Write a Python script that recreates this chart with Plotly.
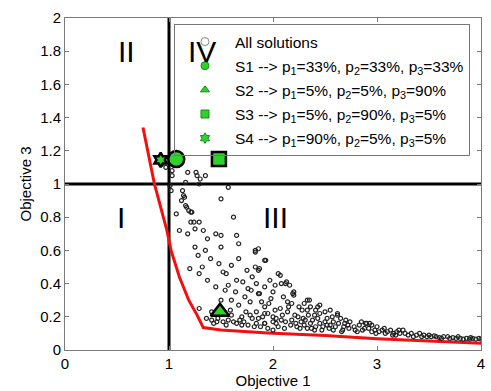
import plotly.graph_objects as go

# ---- data -------------------------------------------------------------
cloud_x = [0.93, 0.97, 1.03, 1.03, 1.18, 1.26, 1.27, 1.30, 1.35, 1.16, 1.29, 1.01, 1.57, 1.02, 1.13,
           1.14, 1.15, 1.50, 1.17, 1.16, 1.19, 1.22, 1.21, 1.07, 1.62, 1.21, 1.24, 1.29, 1.25, 1.33,
           1.45, 1.50, 1.37, 1.65, 1.67, 1.50, 1.86, 1.28, 1.67, 1.83, 1.83, 1.92, 1.93, 1.20, 1.48,
           1.52, 1.55, 1.60, 1.29, 1.37, 1.83, 1.86, 1.71, 1.57, 1.84, 1.76, 1.79, 1.64, 1.54, 1.73,
           1.86, 1.92, 1.78, 1.89, 1.67, 1.29, 1.41, 1.59, 1.74, 1.84, 1.92, 1.36, 1.41, 1.46, 1.52,
           1.57, 1.62, 1.65, 1.70, 1.76, 1.84, 1.86, 1.92,
           1.87, 2.05, 2.07, 2.12, 2.16, 2.08, 2.20, 2.20, 1.87, 1.98, 2.10, 2.14, 2.35, 2.36, 2.41,
           2.33, 2.45, 1.92, 2.02, 2.07, 1.95, 2.14, 2.21, 2.24, 2.29, 2.31, 2.38, 2.43, 2.52, 2.57,
           2.62, 2.65, 2.70, 2.74, 2.90, 2.95, 1.92, 2.00, 2.05, 2.11, 2.17, 2.26, 2.33, 2.41, 2.48,
           2.54, 2.60, 2.67, 2.73, 2.81, 2.88, 2.95,
           2.13, 2.19, 2.33, 2.43, 2.62, 2.89, 3.00, 3.19,
           2.93, 3.05, 3.10, 3.16, 3.21, 3.22, 3.27, 3.33, 3.43, 3.48, 3.52, 3.57, 3.64, 3.70, 3.76,
           3.83, 3.89, 3.95, 4.00,
           2.00, 2.03, 2.08, 2.12, 2.18, 2.22, 2.27, 2.30, 2.36, 2.40, 2.45, 2.50, 2.55, 2.58, 2.63,
           2.68, 2.72, 2.78, 2.83, 2.86, 2.92, 2.98, 3.02, 3.08, 3.13, 3.18, 3.25, 3.30, 3.38, 3.45,
           3.55, 3.60, 3.68, 3.73, 3.80, 3.86, 3.92, 3.98, 2.25, 2.28, 2.50, 2.55, 2.30, 2.40, 2.45,
           2.15, 2.18, 1.96, 2.00, 1.97, 2.02, 1.80, 1.75, 1.65, 1.60, 1.50, 1.45, 1.40, 1.35, 1.32,
           1.25, 1.12, 1.10, 1.18, 1.70, 1.80, 1.88, 1.95, 2.00,
           1.43, 1.47, 1.55, 1.60, 1.68, 1.72, 1.78, 1.82, 1.90, 2.03, 2.09, 2.23, 2.34, 2.47, 2.58,
           2.69, 2.79, 2.85, 2.99, 3.07, 3.15, 3.35, 3.41, 3.50, 3.62, 3.78, 3.90, 2.37, 2.52, 2.66]
cloud_y = [1.12, 1.10, 1.08, 1.05, 1.07, 1.07, 1.05, 1.03, 1.05, 1.01, 1.00, 0.99, 0.98, 0.96, 0.96,
           0.93, 0.92, 0.91, 0.86, 0.87, 0.84, 0.83, 0.83, 0.82, 0.80, 0.77, 0.77, 0.77, 0.73, 0.72,
           0.70, 0.69, 0.67, 0.69, 0.64, 0.62, 0.61, 0.57, 0.55, 0.59, 0.60, 0.54, 0.54, 0.49, 0.52,
           0.47, 0.46, 0.51, 0.46, 0.42, 0.50, 0.48, 0.41, 0.39, 0.40, 0.37, 0.36, 0.35, 0.36, 0.32,
           0.34, 0.38, 0.29, 0.29, 0.27, 0.25, 0.23, 0.24, 0.23, 0.23, 0.22, 0.19, 0.18, 0.17, 0.17,
           0.18, 0.17, 0.16, 0.15, 0.15, 0.16, 0.19, 0.16,
           0.49, 0.46, 0.45, 0.40, 0.39, 0.40, 0.35, 0.33, 0.34, 0.31, 0.32, 0.29, 0.30, 0.26, 0.24,
           0.24, 0.27, 0.26, 0.24, 0.25, 0.22, 0.23, 0.21, 0.20, 0.19, 0.18, 0.18, 0.19, 0.19, 0.20,
           0.22, 0.19, 0.18, 0.17, 0.16, 0.15, 0.16, 0.17, 0.14, 0.13, 0.15, 0.13, 0.13, 0.14, 0.14,
           0.13, 0.14, 0.12, 0.13, 0.11, 0.13, 0.11,
           0.41, 0.34, 0.30, 0.26, 0.21, 0.16, 0.14, 0.11,
           0.16, 0.12, 0.11, 0.10, 0.12, 0.10, 0.10, 0.10, 0.08, 0.08, 0.08, 0.08, 0.08, 0.07, 0.07,
           0.065, 0.065, 0.065, 0.065,
           0.20, 0.19, 0.18, 0.17, 0.18, 0.16, 0.17, 0.15, 0.16, 0.12, 0.16, 0.17, 0.15, 0.17, 0.16,
           0.14, 0.15, 0.14, 0.15, 0.12, 0.13, 0.12, 0.11, 0.10, 0.12, 0.09, 0.12, 0.09, 0.09, 0.09,
           0.085, 0.075, 0.08, 0.075, 0.07, 0.07, 0.07, 0.07, 0.26, 0.24, 0.23, 0.24, 0.28, 0.21, 0.22,
           0.26, 0.28, 0.28, 0.35, 0.42, 0.39, 0.44, 0.48, 0.42, 0.30, 0.30, 0.38, 0.55, 0.60, 0.50,
           0.62, 0.90, 0.72, 0.70, 0.20, 0.19, 0.14, 0.13, 0.12,
           0.16, 0.19, 0.15, 0.21, 0.18, 0.17, 0.21, 0.14, 0.20, 0.16, 0.21, 0.14, 0.21, 0.12, 0.12,
           0.16, 0.12, 0.17, 0.10, 0.13, 0.09, 0.08, 0.10, 0.09, 0.07, 0.08, 0.075, 0.13, 0.15, 0.11]

# Pareto-front approximation (red curve)
front_x = [0.75, 0.86, 0.98, 1.02, 1.10, 1.19, 1.27, 1.33, 1.50, 1.95, 2.50, 3.00, 3.50, 4.00]
front_y = [1.34, 1.00, 0.72, 0.60, 0.44, 0.30, 0.21, 0.135, 0.12, 0.103, 0.087, 0.068, 0.054, 0.04]

# Selected solutions S1..S4 (objective 1, objective 3)
sel_names = ["S1 --&gt; p<sub>1</sub>=33%, p<sub>2</sub>=33%, p<sub>3</sub>=33%",
             "S2 --&gt; p<sub>1</sub>=5%, p<sub>2</sub>=5%, p<sub>3</sub>=90%",
             "S3 --&gt; p<sub>1</sub>=5%, p<sub>2</sub>=90%, p<sub>3</sub>=5%",
             "S4 --&gt; p<sub>1</sub>=90%, p<sub>2</sub>=5%, p<sub>3</sub>=5%"]
sel_x = [1.07, 1.49, 1.48, 0.92]
sel_y = [1.15, 0.23, 1.15, 1.145]
sel_symbols = ["circle", "triangle-up", "square", "hexagram"]
sel_sizes = [16, 16, 14, 11]

# Reference thresholds and quadrant labels
ref_obj1 = 1.0
ref_obj3 = 1.0
quad_labels = ["II", "IV", "I", "III"]
quad_x = [0.59, 1.32, 0.54, 2.02]
quad_y = [1.80, 1.80, 0.80, 0.80]

x_range = [0, 4]
y_range = [0, 2]
x_ticks = [0, 1, 2, 3, 4]
y_ticks = [0, 0.2, 0.4, 0.6, 0.8, 1, 1.2, 1.4, 1.6, 1.8, 2]
y_tick_text = ["0", "0.2", "0.4", "0.6", "0.8", "1", "1.2", "1.4", "1.6", "1.8", "2"]

GREEN = "#2fd12f"
FONT = "Liberation Sans, Arial, sans-serif"

fig = go.Figure()

# threshold lines
fig.add_trace(go.Scatter(x=[ref_obj1, ref_obj1], y=y_range, mode="lines",
                         line=dict(color="black", width=3), showlegend=False, hoverinfo="skip"))
fig.add_trace(go.Scatter(x=x_range, y=[ref_obj3, ref_obj3], mode="lines",
                         line=dict(color="black", width=3), showlegend=False, hoverinfo="skip"))

# red front
fig.add_trace(go.Scatter(x=front_x, y=front_y, mode="lines", line=dict(color="#f01010", width=3),
                         showlegend=False))

# all solutions
fig.add_trace(go.Scatter(x=cloud_x, y=cloud_y, mode="markers", name="All solutions",
                         showlegend=False,
                         marker=dict(symbol="circle-open", size=4, color="#222222",
                                     line=dict(width=1.2, color="#222222"))))

# selected solutions (large markers on the plot)
for i in range(4):
    fig.add_trace(go.Scatter(x=[sel_x[i]], y=[sel_y[i]], mode="markers", showlegend=False,
                             marker=dict(symbol=sel_symbols[i], size=sel_sizes[i], color=GREEN,
                                         line=dict(width=2.5, color="black"))))

# legend entries with small symbols
fig.add_trace(go.Scatter(x=[None], y=[None], mode="markers", name="All solutions",
                         legendgroup="g0",
                         marker=dict(symbol="circle-open", size=8, color="#888888",
                                     line=dict(width=1, color="#888888"))))
for i in range(4):
    fig.add_trace(go.Scatter(x=[None], y=[None], mode="markers", name=sel_names[i],
                             legendgroup="g%d" % (i + 1),
                             marker=dict(symbol=sel_symbols[i], size=8, color=GREEN,
                                         line=dict(width=1, color="#1a8a1a"))))

for t, xx, yy in zip(quad_labels, quad_x, quad_y):
    fig.add_annotation(x=xx, y=yy, text=t, showarrow=False,
                       font=dict(family=FONT, size=30, color="black"))

axis_common = dict(showline=True, linecolor="#7a7a7a", linewidth=1, mirror="ticks",
                   ticks="inside", ticklen=4, tickcolor="#7a7a7a", showgrid=False,
                   zeroline=False, tickfont=dict(family=FONT, size=15, color="black"))

fig.update_layout(
    width=491, height=391,
    margin=dict(l=65, r=6, t=18, b=41),
    paper_bgcolor="white", plot_bgcolor="white",
    font=dict(family=FONT, color="black"),
    xaxis=dict(range=x_range, tickvals=x_ticks, title=dict(text="Objective 1", font=dict(size=15),
                                                          standoff=2), **axis_common),
    yaxis=dict(range=y_range, tickvals=y_ticks, ticktext=y_tick_text,
               title=dict(text="Objective 3", font=dict(size=15), standoff=4), **axis_common),
    legend=dict(x=0.262, y=0.982, xanchor="left", yanchor="top",
                bgcolor="rgba(255,255,255,0)", bordercolor="#777777", borderwidth=1,
                font=dict(family=FONT, size=15.5, color="black"),
                itemwidth=50, tracegroupgap=1),
    showlegend=True,
)

fig.write_html("out.html")
